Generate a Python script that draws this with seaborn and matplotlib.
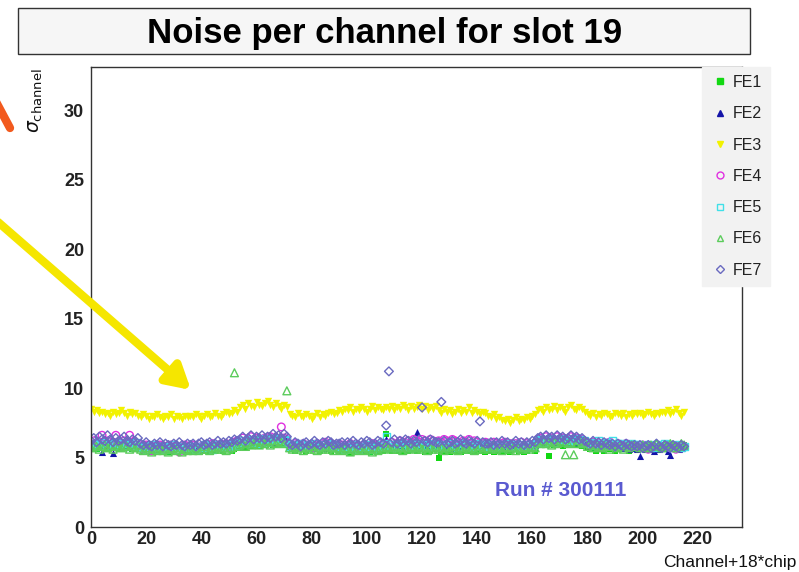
import numpy as np
import pandas as pd
import matplotlib
matplotlib.use("Agg")
import matplotlib.pyplot as plt
from matplotlib.lines import Line2D
from matplotlib.patches import Rectangle
from matplotlib.ticker import MultipleLocator
import seaborn as sns

# ---------------- data (one row per chip, 18 channels each) ----------------
FE1 = [
    5.7,5.8,5.6,5.9,5.7,5.8,5.6,5.7,5.9,5.8,5.6,5.7,5.8,5.9,5.7,5.6,5.8,5.7,
    5.6,5.5,5.7,5.6,5.4,5.6,5.5,5.7,5.6,5.5,5.4,5.6,5.5,5.7,5.6,5.5,5.6,5.4,
    5.5,5.6,5.4,5.6,5.5,5.7,5.5,5.4,5.6,5.5,5.7,5.6,5.5,5.6,5.7,5.5,5.6,5.8,
    5.8,5.9,5.7,6.0,5.8,5.9,6.1,5.8,6.0,5.9,6.1,6.2,5.9,6.0,6.2,6.0,6.1,6.3,
    5.6,5.7,5.5,5.6,5.8,5.6,5.5,5.7,5.6,5.8,5.6,5.5,5.7,5.6,5.8,5.5,5.7,5.6,
    5.5,5.4,5.6,5.5,5.3,5.5,5.6,5.4,5.5,5.7,5.5,5.4,5.6,5.5,5.4,5.6,5.5,6.7,
    5.6,5.5,5.7,5.5,5.6,5.4,5.6,5.5,5.7,5.6,5.5,5.7,5.6,5.4,5.6,5.5,5.7,5.6,
    5.0,5.4,5.5,5.6,5.4,5.5,5.6,5.5,5.4,5.6,5.5,5.7,5.5,5.4,5.6,5.5,5.6,5.4,
    5.5,5.6,5.4,5.6,5.5,5.7,5.5,5.6,5.4,5.6,5.7,5.5,5.6,5.4,5.5,5.7,5.6,5.5,
    6.0,6.1,5.9,6.2,5.1,6.0,5.9,6.1,6.0,5.8,6.1,5.9,6.2,6.0,5.9,6.1,5.8,6.0,
    5.7,5.6,5.8,5.5,5.7,5.6,5.5,5.7,5.6,5.8,5.5,5.7,5.6,5.8,5.7,5.5,5.7,5.6,
    5.7,5.8,5.6,5.7,5.9,5.7,5.6,5.8,5.7,5.9,5.8,5.6,5.7,5.9,5.8,5.7,5.8,5.9,
]
FE2 = [
    5.9,6.0,5.8,6.1,5.4,5.9,6.0,5.8,5.3,6.0,5.9,6.1,5.8,6.0,5.9,6.1,5.8,5.9,
    5.8,5.7,5.9,5.8,5.6,5.8,5.7,5.9,5.8,5.7,5.6,5.8,5.7,5.9,5.8,5.6,5.8,5.7,
    5.8,5.7,5.9,5.8,5.6,5.8,5.9,5.7,5.8,5.9,5.7,5.8,6.0,5.8,5.9,6.0,5.8,6.1,
    6.1,6.2,6.0,6.3,6.1,6.2,6.4,6.1,6.3,6.2,6.4,6.3,6.1,6.3,6.5,6.2,6.4,6.3,
    5.9,5.8,6.0,5.7,5.9,5.8,6.0,5.9,5.7,5.8,6.0,5.9,5.8,5.7,5.9,5.8,6.0,5.9,
    5.8,5.7,5.9,5.8,5.6,5.8,5.7,5.9,5.8,5.6,5.8,5.9,5.7,5.8,5.9,5.7,5.8,6.3,
    5.9,6.0,5.8,6.1,5.9,6.0,5.8,6.2,6.0,6.1,6.8,5.9,6.0,6.1,5.9,6.0,6.1,5.9,
    5.9,5.8,6.0,5.9,5.7,5.9,6.0,5.8,5.9,6.0,5.8,5.9,6.1,5.9,5.8,6.0,5.9,5.8,
    5.9,5.8,6.0,5.8,5.9,6.0,5.8,5.9,5.7,5.9,6.0,5.8,5.9,6.0,5.8,5.9,6.1,5.9,
    6.2,6.3,6.1,6.4,6.2,6.3,6.1,6.4,6.2,6.3,6.5,6.2,6.3,6.1,6.4,6.2,6.3,6.1,
    5.9,5.8,6.0,5.8,5.9,5.7,5.9,5.8,6.0,5.9,5.7,5.8,5.9,5.7,5.8,5.6,5.8,5.7,
    5.6,5.1,5.7,5.6,5.8,5.6,5.5,5.7,5.6,5.8,5.7,5.5,5.2,5.7,5.8,5.6,5.7,5.8,
]
FE3 = [
    8.5,8.3,8.4,8.2,8.3,8.1,8.2,8.0,8.3,8.1,8.2,8.4,8.2,8.0,8.3,8.1,8.2,8.0,
    7.9,8.1,8.0,7.8,8.0,7.9,8.1,7.9,7.8,8.0,7.9,8.1,7.8,8.0,7.9,7.8,8.0,7.9,
    8.0,7.9,8.1,8.0,7.8,8.0,8.1,7.9,8.0,8.2,8.0,7.9,8.1,8.3,8.1,8.2,8.4,8.3,
    8.6,8.8,8.5,8.9,8.7,8.6,9.0,8.8,8.7,8.9,9.1,8.8,8.6,8.9,8.7,8.5,8.8,8.6,
    8.1,8.0,7.9,8.2,8.0,7.9,8.1,8.0,7.8,8.0,8.2,7.9,8.1,8.0,8.2,8.3,8.1,8.2,
    8.4,8.3,8.5,8.4,8.6,8.3,8.5,8.4,8.6,8.5,8.3,8.5,8.7,8.4,8.6,8.5,8.4,8.6,
    8.5,8.7,8.4,8.6,8.5,8.8,8.6,8.4,8.7,8.5,8.6,8.8,8.5,8.7,8.4,8.6,8.5,8.7,
    8.4,8.2,8.5,8.3,8.4,8.1,8.3,8.5,8.2,8.4,8.3,8.6,8.2,8.4,8.3,8.1,8.3,8.2,
    8.0,7.9,8.1,7.8,7.9,7.7,7.6,7.8,7.5,7.7,7.9,7.6,7.8,7.7,7.9,7.8,8.0,8.1,
    8.4,8.5,8.3,8.6,8.4,8.5,8.7,8.4,8.6,8.5,8.3,8.6,8.8,8.5,8.4,8.6,8.5,8.3,
    8.1,8.0,8.2,7.9,8.1,8.0,8.2,8.1,7.9,8.0,8.2,8.1,8.0,8.2,7.9,8.1,8.0,8.2,
    8.1,8.2,8.0,8.1,8.3,8.1,8.0,8.2,8.1,8.3,8.2,8.4,8.1,8.3,8.5,8.2,8.0,8.3,
]
FE4 = [
    6.0,6.2,5.9,6.1,6.6,6.0,6.2,5.9,6.1,6.6,6.0,5.9,6.2,6.0,6.6,6.1,5.9,6.0,
    5.8,5.6,5.9,5.7,5.5,5.8,5.7,5.9,5.6,5.8,5.7,5.9,5.6,5.8,5.4,5.7,5.9,5.8,
    5.7,5.9,5.8,5.6,5.8,5.9,5.7,5.8,6.0,5.8,5.9,5.7,5.9,6.0,5.8,6.0,6.1,6.2,
    6.2,6.4,6.1,6.3,6.5,6.2,6.4,6.3,6.1,6.4,6.2,6.5,6.3,6.4,6.2,7.2,6.4,6.3,
    5.9,5.8,6.0,5.8,5.9,6.0,5.8,5.9,5.7,5.9,6.0,5.8,5.9,6.1,5.9,6.0,5.8,5.9,
    5.8,5.9,5.7,5.8,6.0,5.8,5.9,5.7,5.8,5.9,5.7,5.8,6.0,5.9,5.8,5.9,6.0,5.9,
    6.0,6.1,5.9,6.0,6.2,6.1,6.0,6.2,6.1,6.3,6.2,6.1,6.3,6.2,6.1,6.3,6.2,6.1,
    6.2,6.1,6.3,6.2,6.1,6.3,6.2,6.1,6.0,6.2,6.1,6.3,6.0,6.2,6.1,6.0,5.8,6.1,
    6.0,5.9,6.1,6.0,5.8,6.0,6.1,5.9,6.0,5.8,6.0,5.9,6.1,5.8,6.0,5.9,5.8,6.0,
    6.3,6.4,6.2,6.5,6.3,6.4,6.2,6.5,6.3,6.4,6.2,6.3,6.5,6.3,6.4,6.2,6.3,6.1,
    6.0,5.9,6.1,5.9,6.0,5.8,6.0,5.9,6.1,5.9,5.8,6.0,5.9,5.8,6.0,5.9,5.8,5.9,
    5.8,5.7,5.9,5.8,5.6,5.8,5.7,5.9,5.8,5.7,5.8,5.9,5.7,5.8,5.6,5.8,5.7,5.8,
]
FE5 = [
    5.8,6.0,5.9,5.8,6.1,5.9,5.8,6.0,5.9,6.1,5.8,6.0,5.9,5.8,6.0,5.9,6.1,5.8,
    5.7,5.8,5.6,5.7,5.9,5.7,5.6,5.8,5.7,5.6,5.8,5.7,5.9,5.6,5.7,5.8,5.6,5.7,
    5.7,5.8,5.6,5.8,5.7,5.9,5.7,5.8,5.6,5.8,5.9,5.7,5.8,5.9,5.7,5.9,6.0,5.9,
    6.1,6.2,6.0,6.3,6.1,6.2,6.0,6.3,6.2,6.4,6.1,6.3,6.2,6.4,6.3,6.1,6.3,6.2,
    5.8,5.9,5.7,5.8,6.0,5.8,5.7,5.9,5.8,6.0,5.8,5.7,5.9,5.8,6.0,5.8,5.9,5.7,
    5.7,5.8,5.6,5.8,5.7,5.9,5.7,5.6,5.8,5.7,5.9,5.8,5.6,5.8,5.7,5.9,5.8,6.5,
    5.8,5.9,5.7,5.9,5.8,6.0,5.8,5.9,5.7,5.9,6.0,5.8,5.9,5.7,5.8,6.0,5.9,5.8,
    5.8,5.9,5.7,5.8,6.0,5.8,5.9,5.7,5.8,6.0,5.8,5.9,5.7,5.8,6.0,5.9,5.8,5.9,
    5.8,5.9,5.7,5.8,5.9,5.7,5.8,6.0,5.8,5.9,5.7,5.8,5.9,5.8,5.7,5.9,5.8,6.0,
    6.2,6.3,6.1,6.3,6.2,6.4,6.1,6.3,6.2,6.4,6.2,6.1,6.3,6.2,6.4,6.3,6.1,6.2,
    6.0,6.1,5.9,6.0,6.2,6.0,5.9,6.1,6.0,6.2,5.9,6.0,5.8,6.0,5.9,5.8,6.0,5.9,
    5.8,5.9,5.7,5.8,5.9,5.7,5.8,5.9,5.7,5.8,6.0,5.8,5.9,5.7,5.8,5.9,5.7,5.8,
]
FE6 = [
    5.7,5.9,5.8,5.6,5.8,5.9,5.7,5.8,5.6,5.9,5.8,5.7,5.9,5.8,5.6,5.8,5.7,5.9,
    5.6,5.5,5.7,5.6,5.4,5.6,5.5,5.7,5.5,5.6,5.4,5.6,5.7,5.5,5.6,5.4,5.6,5.5,
    5.6,5.5,5.7,5.5,5.6,5.8,5.6,5.5,5.7,5.6,5.8,5.6,5.7,5.5,5.6,5.7,11.1,5.8,
    5.9,6.0,5.8,6.1,5.9,6.0,6.2,5.9,6.1,6.0,6.2,5.9,6.1,6.0,6.2,6.1,6.0,9.8,
    5.7,5.6,5.8,5.6,5.7,5.5,5.7,5.6,5.8,5.6,5.5,5.7,5.6,5.8,5.6,5.7,5.5,5.7,
    5.6,5.5,5.7,5.6,5.4,5.6,5.5,5.7,5.6,5.5,5.7,5.6,5.4,5.6,5.5,5.7,5.6,5.8,
    5.7,5.6,5.8,5.6,5.7,5.5,5.7,5.6,5.8,5.7,5.6,5.8,5.6,5.7,5.5,5.7,5.6,5.8,
    5.6,5.7,5.5,5.7,5.6,5.8,5.6,5.5,5.7,5.6,5.8,5.6,5.7,5.5,5.6,5.8,5.6,5.7,
    5.7,5.6,5.8,5.6,5.7,5.5,5.7,5.8,5.6,5.7,5.5,5.7,5.6,5.8,5.7,5.6,5.8,5.7,
    6.1,6.0,6.2,6.0,6.1,5.9,6.1,6.0,6.2,6.1,5.2,6.0,6.1,5.2,6.0,6.2,6.0,6.1,
    5.8,5.9,5.7,5.9,5.8,5.7,5.9,5.8,5.6,5.8,5.9,5.7,5.8,5.6,5.8,5.7,5.9,5.8,
    5.8,5.7,5.9,5.8,5.7,5.9,5.8,6.0,5.8,5.7,5.9,5.8,6.0,5.9,5.7,5.8,6.0,5.9,
]
FE7 = [
    6.2,6.4,6.1,6.5,6.3,6.2,6.6,6.3,6.1,6.4,6.2,6.3,6.5,6.2,6.1,6.3,6.2,6.4,
    6.0,5.9,6.1,5.9,5.8,6.0,5.9,6.1,5.8,6.0,5.9,5.8,6.0,5.9,6.1,5.9,5.8,6.0,
    5.9,6.0,5.8,6.0,6.1,5.9,6.0,6.1,5.9,6.0,6.2,6.0,6.1,6.0,6.2,6.1,6.3,6.2,
    6.3,6.5,6.2,6.4,6.6,6.3,6.5,6.4,6.6,6.3,6.5,6.4,6.7,6.5,6.6,6.4,6.7,6.5,
    6.0,5.9,6.1,6.0,5.8,6.0,6.1,5.9,6.0,6.2,6.0,5.9,6.1,6.0,6.2,6.1,5.9,6.0,
    6.0,6.1,5.9,6.1,6.0,6.2,6.0,5.9,6.1,6.0,6.2,6.1,5.9,6.0,6.2,6.1,6.0,7.3,
    11.2,6.1,6.3,6.0,6.2,6.1,6.3,6.2,6.0,6.2,6.1,6.3,8.6,6.2,6.1,6.3,6.2,6.1,
    6.1,9.0,6.2,6.0,6.1,6.2,6.0,6.1,6.3,6.1,6.0,6.2,6.1,6.0,6.2,7.6,6.1,6.0,
    6.0,6.1,5.9,6.1,6.0,6.2,6.0,6.1,5.9,6.0,6.2,6.0,6.1,5.9,6.1,6.0,6.2,6.1,
    6.4,6.5,6.3,6.6,6.4,6.5,6.3,6.6,6.4,6.5,6.3,6.4,6.6,6.4,6.5,6.3,6.4,6.2,
    6.1,6.0,6.2,6.0,6.1,5.9,6.1,6.0,5.9,6.0,5.8,6.0,5.9,5.8,6.0,5.9,5.8,5.9,
    5.8,5.9,5.7,5.8,5.9,5.7,5.8,6.0,5.8,5.7,5.9,5.8,5.7,5.9,5.8,5.7,5.9,5.8,
]
channels = list(range(216))
series_names = ["FE1", "FE2", "FE3", "FE4", "FE5", "FE6", "FE7"]
series_values = [FE1, FE2, FE3, FE4, FE5, FE6, FE7]
x_ticks = [0, 20, 40, 60, 80, 100, 120, 140, 160, 180, 200, 220]
y_ticks = [0, 5, 10, 15, 20, 25, 30]

# ---------------- style ----------------
styles = {
    "FE1": dict(marker="s", color="#12d812", filled=True, s=24, ms=5),
    "FE2": dict(marker="^", color="#1414a8", filled=True, s=26, ms=5),
    "FE3": dict(marker="v", color="#f2f200", filled=True, s=28, ms=5),
    "FE4": dict(marker="o", color="#e030e0", filled=False, s=30, ms=5),
    "FE5": dict(marker="s", color="#40e0e8", filled=False, s=26, ms=5),
    "FE6": dict(marker="^", color="#5ccc5c", filled=False, s=32, ms=5),
    "FE7": dict(marker="D", color="#6a6ac0", filled=False, s=20, ms=4),
}

sns.set_style("white")
plt.rcParams["font.family"] = ["Liberation Sans", "DejaVu Sans"]

W, H = 799, 572
fig = plt.figure(figsize=(W / 100, H / 100), dpi=100)
fig.patch.set_facecolor("white")
ax = fig.add_axes([91 / W, 1 - 527 / H, (742 - 91) / W, (527 - 67) / H])

for name, vals in zip(series_names, series_values):
    st = styles[name]
    d = pd.DataFrame({"channel": channels, "noise": vals})
    if st["filled"]:
        sns.scatterplot(data=d, x="channel", y="noise", ax=ax, marker=st["marker"],
                        color=st["color"], s=st["s"], linewidth=0, legend=False)
    else:
        sns.scatterplot(data=d, x="channel", y="noise", ax=ax, marker=st["marker"],
                        facecolor="none", edgecolor=st["color"], s=st["s"],
                        linewidth=1.0, legend=False)

ax.set_xlim(0, 236)
ax.set_ylim(0, 33.1)
ax.set_xticks(x_ticks)
ax.set_yticks(y_ticks)
ax.xaxis.set_minor_locator(MultipleLocator(4))
ax.yaxis.set_minor_locator(MultipleLocator(1))
ax.tick_params(which="both", direction="in", top=False, right=False, colors="#222222",
               labelsize=13)
ax.tick_params(which="major", length=11, width=1)
ax.tick_params(which="minor", length=6, width=1)
for lab in ax.get_xticklabels() + ax.get_yticklabels():
    lab.set_fontweight("bold")
ax.tick_params(axis="x", pad=3)
ax.tick_params(axis="y", pad=5)
for sp in ax.spines.values():
    sp.set_color("#333333")
    sp.set_linewidth(1.0)
ax.set_xlabel("")
ax.set_ylabel("")

# axis titles
fig.text(797 / W, 1 - 563 / H, "Channel+18*chip", ha="right", va="center",
         fontsize=12.5, color="#111111")
fig.text(36 / W, 1 - 68 / H, r"$\sigma_{\mathrm{channel}}$", rotation=90,
         ha="center", va="top", fontsize=13.5, color="#111111")

# title box
fig.patches.append(Rectangle((18 / W, 1 - 54 / H), (750 - 18) / W, (54 - 8) / H,
                             transform=fig.transFigure, facecolor="#f6f6f6",
                             edgecolor="#333333", linewidth=1.0, zorder=0))
fig.text(385 / W, 1 - 33 / H, "Noise per channel for slot 19", ha="center",
         va="center", fontsize=25, fontweight="bold", color="black")

# run label
ax.text(561 / W, 1 - 490 / H, "Run # 300111", transform=fig.transFigure,
        ha="center", va="center", fontsize=15, fontweight="bold", color="#5a5ad0")

# legend
handles = []
for name in series_names:
    st = styles[name]
    if st["filled"]:
        h = Line2D([], [], linestyle="none", marker=st["marker"], markersize=st["ms"],
                   markerfacecolor=st["color"], markeredgecolor=st["color"])
    else:
        h = Line2D([], [], linestyle="none", marker=st["marker"], markersize=st["ms"],
                   markerfacecolor="none", markeredgecolor=st["color"], markeredgewidth=1)
    handles.append(h)
leg = fig.legend(handles, series_names, loc="upper left",
                 bbox_to_anchor=(702 / W, 1 - 67 / H), frameon=True, fontsize=11.5,
                 labelspacing=1.02, handletextpad=0.2, borderpad=0.5,
                 handlelength=1.2, borderaxespad=0, fancybox=False)
leg.get_frame().set_facecolor("#f2f2f2")
leg.get_frame().set_edgecolor("#f2f2f2")
leg.get_frame().set_alpha(1.0)
for t in leg.get_texts():
    t.set_color("#222222")

# arrows (annotations in figure pixels)
ax.annotate("", xy=(191, H - 390), xycoords="figure pixels",
            xytext=(-2, H - 222), textcoords="figure pixels",
            arrowprops=dict(arrowstyle="-|>,head_length=1.4,head_width=0.8",
                            color="#f5e600", lw=6, shrinkA=0, shrinkB=0),
            annotation_clip=False)
ax.annotate("", xy=(10, H - 128), xycoords="figure pixels",
            xytext=(-6, H - 98), textcoords="figure pixels",
            arrowprops=dict(arrowstyle="-", color="#f25a1e", lw=6, shrinkA=0, shrinkB=0),
            annotation_clip=False)

fig.savefig("out.png", dpi=100)
